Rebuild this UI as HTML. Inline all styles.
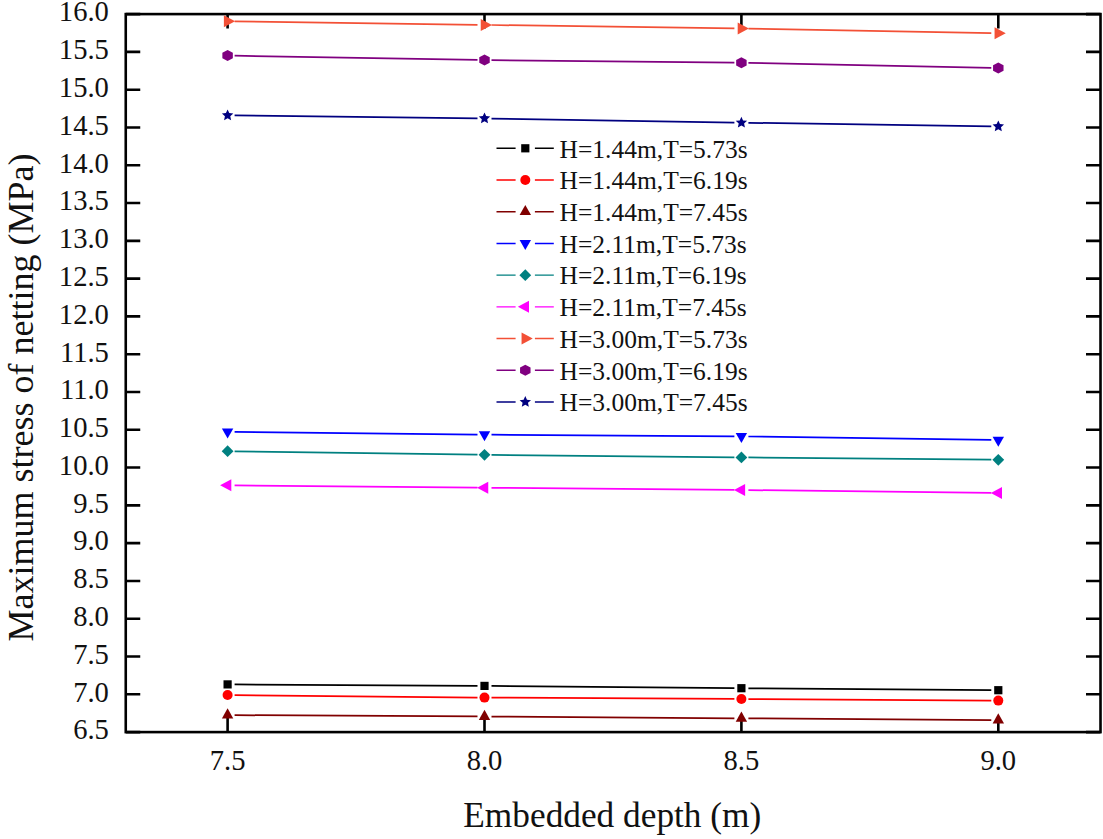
<!DOCTYPE html>
<html><head><meta charset="utf-8"><style>
html,body{margin:0;padding:0;background:#fff;}
body{width:1103px;height:839px;overflow:hidden;}
svg{display:block;}
text{font-family:"Liberation Serif",serif;fill:#111;}
</style></head><body>
<svg width="1103" height="839" viewBox="0 0 1103 839">
<rect x="0" y="0" width="1103" height="839" fill="#fff"/>
<path d="M234.60,684.44L477.50,685.86M491.50,685.96L734.40,688.14M748.40,688.25L991.30,690.15" stroke="#000000" stroke-width="1.75" fill="none"/>
<path d="M234.60,695.07L477.50,697.53M491.50,697.64L734.40,698.96M748.40,699.04L991.30,700.56" stroke="#FF0000" stroke-width="1.75" fill="none"/>
<path d="M234.60,715.14L477.50,716.46M491.50,716.55L734.40,718.25M748.40,718.35L991.30,720.05" stroke="#800000" stroke-width="1.75" fill="none"/>
<path d="M234.60,431.88L477.50,434.52M491.50,434.65L734.40,436.35M748.40,436.50L991.30,439.90" stroke="#0000FF" stroke-width="1.75" fill="none"/>
<path d="M234.60,451.30L477.50,454.70M491.50,454.87L734.40,457.33M748.40,457.47L991.30,459.73" stroke="#008080" stroke-width="1.75" fill="none"/>
<path d="M234.60,485.37L477.50,487.63M491.50,487.76L734.40,489.94M748.40,490.08L991.30,492.92" stroke="#FF00FF" stroke-width="1.75" fill="none"/>
<path d="M234.60,21.30L477.50,24.80M491.50,25.00L734.40,28.30M748.40,28.53L991.30,33.07" stroke="#F35036" stroke-width="1.75" fill="none"/>
<path d="M234.60,55.72L477.50,59.98M491.50,60.17L734.40,62.63M748.40,62.84L991.30,67.76" stroke="#800080" stroke-width="1.75" fill="none"/>
<path d="M234.60,115.48L477.50,118.32M491.50,118.52L734.40,122.58M748.40,122.80L991.30,126.30" stroke="#000080" stroke-width="1.75" fill="none"/>
<path d="M125.75,732.10h14.5M1100.50,732.10h-14.5M125.75,694.31h14.5M1100.50,694.31h-14.5M125.75,656.52h14.5M1100.50,656.52h-14.5M125.75,618.73h14.5M1100.50,618.73h-14.5M125.75,580.94h14.5M1100.50,580.94h-14.5M125.75,543.15h14.5M1100.50,543.15h-14.5M125.75,505.36h14.5M1100.50,505.36h-14.5M125.75,467.57h14.5M1100.50,467.57h-14.5M125.75,429.78h14.5M1100.50,429.78h-14.5M125.75,391.99h14.5M1100.50,391.99h-14.5M125.75,354.21h14.5M1100.50,354.21h-14.5M125.75,316.42h14.5M1100.50,316.42h-14.5M125.75,278.63h14.5M1100.50,278.63h-14.5M125.75,240.84h14.5M1100.50,240.84h-14.5M125.75,203.05h14.5M1100.50,203.05h-14.5M125.75,165.26h14.5M1100.50,165.26h-14.5M125.75,127.47h14.5M1100.50,127.47h-14.5M125.75,89.68h14.5M1100.50,89.68h-14.5M125.75,51.89h14.5M1100.50,51.89h-14.5M125.75,14.10h14.5M1100.50,14.10h-14.5M227.60,732.10v-14.5M227.60,14.10v14.5M484.50,732.10v-14.5M484.50,14.10v14.5M741.40,732.10v-14.5M741.40,14.10v14.5M998.30,732.10v-14.5M998.30,14.10v14.5" stroke="#000" stroke-width="2.6" fill="none"/>
<rect x="125.75" y="14.10" width="974.75" height="718.00" stroke="#000" stroke-width="2.6" fill="none"/>
<rect x="223.50" y="680.30" width="8.20" height="8.20" fill="#000000"/>
<rect x="480.40" y="681.80" width="8.20" height="8.20" fill="#000000"/>
<rect x="737.30" y="684.10" width="8.20" height="8.20" fill="#000000"/>
<rect x="994.20" y="686.10" width="8.20" height="8.20" fill="#000000"/>
<circle cx="227.60" cy="695.00" r="5.00" fill="#FF0000"/>
<circle cx="484.50" cy="697.60" r="5.00" fill="#FF0000"/>
<circle cx="741.40" cy="699.00" r="5.00" fill="#FF0000"/>
<circle cx="998.30" cy="700.60" r="5.00" fill="#FF0000"/>
<polygon points="227.60,708.30 233.30,718.50 221.90,718.50" fill="#800000"/>
<polygon points="484.50,709.70 490.20,719.90 478.80,719.90" fill="#800000"/>
<polygon points="741.40,711.50 747.10,721.70 735.70,721.70" fill="#800000"/>
<polygon points="998.30,713.30 1004.00,723.50 992.60,723.50" fill="#800000"/>
<polygon points="221.90,428.47 233.30,428.47 227.60,438.47" fill="#0000FF"/>
<polygon points="478.80,431.27 490.20,431.27 484.50,441.27" fill="#0000FF"/>
<polygon points="735.70,433.07 747.10,433.07 741.40,443.07" fill="#0000FF"/>
<polygon points="992.60,436.67 1004.00,436.67 998.30,446.67" fill="#0000FF"/>
<polygon points="227.60,445.30 233.50,451.20 227.60,457.10 221.70,451.20" fill="#008080"/>
<polygon points="484.50,448.90 490.40,454.80 484.50,460.70 478.60,454.80" fill="#008080"/>
<polygon points="741.40,451.50 747.30,457.40 741.40,463.30 735.50,457.40" fill="#008080"/>
<polygon points="998.30,453.90 1004.20,459.80 998.30,465.70 992.40,459.80" fill="#008080"/>
<polygon points="220.13,485.30 231.33,479.30 231.33,491.30" fill="#FF00FF"/>
<polygon points="477.03,487.70 488.23,481.70 488.23,493.70" fill="#FF00FF"/>
<polygon points="733.93,490.00 745.13,484.00 745.13,496.00" fill="#FF00FF"/>
<polygon points="990.83,493.00 1002.03,487.00 1002.03,499.00" fill="#FF00FF"/>
<polygon points="235.07,21.20 223.87,15.20 223.87,27.20" fill="#F35036"/>
<polygon points="491.97,24.90 480.77,18.90 480.77,30.90" fill="#F35036"/>
<polygon points="748.87,28.40 737.67,22.40 737.67,34.40" fill="#F35036"/>
<polygon points="1005.77,33.20 994.57,27.20 994.57,39.20" fill="#F35036"/>
<polygon points="227.60,50.10 232.84,52.85 232.84,58.35 227.60,61.10 222.36,58.35 222.36,52.85" fill="#800080"/>
<polygon points="484.50,54.60 489.74,57.35 489.74,62.85 484.50,65.60 479.26,62.85 479.26,57.35" fill="#800080"/>
<polygon points="741.40,57.20 746.64,59.95 746.64,65.45 741.40,68.20 736.16,65.45 736.16,59.95" fill="#800080"/>
<polygon points="998.30,62.40 1003.54,65.15 1003.54,70.65 998.30,73.40 993.06,70.65 993.06,65.15" fill="#800080"/>
<polygon points="227.60,109.40 229.26,113.12 233.31,113.55 230.28,116.27 231.13,120.25 227.60,118.22 224.07,120.25 224.92,116.27 221.89,113.55 225.94,113.12" fill="#000080"/>
<polygon points="484.50,112.40 486.16,116.12 490.21,116.55 487.18,119.27 488.03,123.25 484.50,121.22 480.97,123.25 481.82,119.27 478.79,116.55 482.84,116.12" fill="#000080"/>
<polygon points="741.40,116.70 743.06,120.42 747.11,120.85 744.08,123.57 744.93,127.55 741.40,125.52 737.87,127.55 738.72,123.57 735.69,120.85 739.74,120.42" fill="#000080"/>
<polygon points="998.30,120.40 999.96,124.12 1004.01,124.55 1000.98,127.27 1001.83,131.25 998.30,129.22 994.77,131.25 995.62,127.27 992.59,124.55 996.64,124.12" fill="#000080"/>
<text x="108.9" y="739.40" font-size="28.6" text-anchor="end">6.5</text>
<text x="108.9" y="701.61" font-size="28.6" text-anchor="end">7.0</text>
<text x="108.9" y="663.82" font-size="28.6" text-anchor="end">7.5</text>
<text x="108.9" y="626.03" font-size="28.6" text-anchor="end">8.0</text>
<text x="108.9" y="588.24" font-size="28.6" text-anchor="end">8.5</text>
<text x="108.9" y="550.45" font-size="28.6" text-anchor="end">9.0</text>
<text x="108.9" y="512.66" font-size="28.6" text-anchor="end">9.5</text>
<text x="108.9" y="474.87" font-size="28.6" text-anchor="end">10.0</text>
<text x="108.9" y="437.08" font-size="28.6" text-anchor="end">10.5</text>
<text x="108.9" y="399.29" font-size="28.6" text-anchor="end">11.0</text>
<text x="108.9" y="361.51" font-size="28.6" text-anchor="end">11.5</text>
<text x="108.9" y="323.72" font-size="28.6" text-anchor="end">12.0</text>
<text x="108.9" y="285.93" font-size="28.6" text-anchor="end">12.5</text>
<text x="108.9" y="248.14" font-size="28.6" text-anchor="end">13.0</text>
<text x="108.9" y="210.35" font-size="28.6" text-anchor="end">13.5</text>
<text x="108.9" y="172.56" font-size="28.6" text-anchor="end">14.0</text>
<text x="108.9" y="134.77" font-size="28.6" text-anchor="end">14.5</text>
<text x="108.9" y="96.98" font-size="28.6" text-anchor="end">15.0</text>
<text x="108.9" y="59.19" font-size="28.6" text-anchor="end">15.5</text>
<text x="108.9" y="21.40" font-size="28.6" text-anchor="end">16.0</text>
<text x="227.60" y="769.8" font-size="28.6" text-anchor="middle">7.5</text>
<text x="484.50" y="769.8" font-size="28.6" text-anchor="middle">8.0</text>
<text x="741.40" y="769.8" font-size="28.6" text-anchor="middle">8.5</text>
<text x="998.30" y="769.8" font-size="28.6" text-anchor="middle">9.0</text>
<text x="612.3" y="827.2" font-size="35.3" text-anchor="middle">Embedded depth (m)</text>
<text transform="translate(33.1,397.5) rotate(-90)" x="0" y="0" font-size="36" text-anchor="middle">Maximum stress of netting (MPa)</text>
<path d="M496.5,148.30H515.6M534.9,148.30H553.8" stroke="#000000" stroke-width="1.45" fill="none"/>
<rect x="521.20" y="144.20" width="8.20" height="8.20" fill="#000000"/>
<text x="559.5" y="157.60" font-size="25.5">H=1.44m,T=5.73s</text>
<path d="M496.5,180.01H515.6M534.9,180.01H553.8" stroke="#FF0000" stroke-width="1.45" fill="none"/>
<circle cx="525.30" cy="180.01" r="5.00" fill="#FF0000"/>
<text x="559.5" y="189.31" font-size="25.5">H=1.44m,T=6.19s</text>
<path d="M496.5,211.72H515.6M534.9,211.72H553.8" stroke="#800000" stroke-width="1.45" fill="none"/>
<polygon points="525.30,204.92 531.00,215.12 519.60,215.12" fill="#800000"/>
<text x="559.5" y="221.02" font-size="25.5">H=1.44m,T=7.45s</text>
<path d="M496.5,243.43H515.6M534.9,243.43H553.8" stroke="#0000FF" stroke-width="1.45" fill="none"/>
<polygon points="519.60,240.10 531.00,240.10 525.30,250.10" fill="#0000FF"/>
<text x="559.5" y="252.73" font-size="25.5">H=2.11m,T=5.73s</text>
<path d="M496.5,275.14H515.6M534.9,275.14H553.8" stroke="#008080" stroke-width="1.45" fill="none"/>
<polygon points="525.30,269.24 531.20,275.14 525.30,281.04 519.40,275.14" fill="#008080"/>
<text x="559.5" y="284.44" font-size="25.5">H=2.11m,T=6.19s</text>
<path d="M496.5,306.85H515.6M534.9,306.85H553.8" stroke="#FF00FF" stroke-width="1.45" fill="none"/>
<polygon points="517.83,306.85 529.03,300.85 529.03,312.85" fill="#FF00FF"/>
<text x="559.5" y="316.15" font-size="25.5">H=2.11m,T=7.45s</text>
<path d="M496.5,338.56H515.6M534.9,338.56H553.8" stroke="#F35036" stroke-width="1.45" fill="none"/>
<polygon points="532.77,338.56 521.57,332.56 521.57,344.56" fill="#F35036"/>
<text x="559.5" y="347.86" font-size="25.5">H=3.00m,T=5.73s</text>
<path d="M496.5,370.27H515.6M534.9,370.27H553.8" stroke="#800080" stroke-width="1.45" fill="none"/>
<polygon points="525.30,364.77 530.54,367.52 530.54,373.02 525.30,375.77 520.06,373.02 520.06,367.52" fill="#800080"/>
<text x="559.5" y="379.57" font-size="25.5">H=3.00m,T=6.19s</text>
<path d="M496.5,401.98H515.6M534.9,401.98H553.8" stroke="#000080" stroke-width="1.45" fill="none"/>
<polygon points="525.30,395.98 526.96,399.70 531.01,400.13 527.98,402.85 528.83,406.83 525.30,404.80 521.77,406.83 522.62,402.85 519.59,400.13 523.64,399.70" fill="#000080"/>
<text x="559.5" y="411.28" font-size="25.5">H=3.00m,T=7.45s</text>
</svg></body></html>
